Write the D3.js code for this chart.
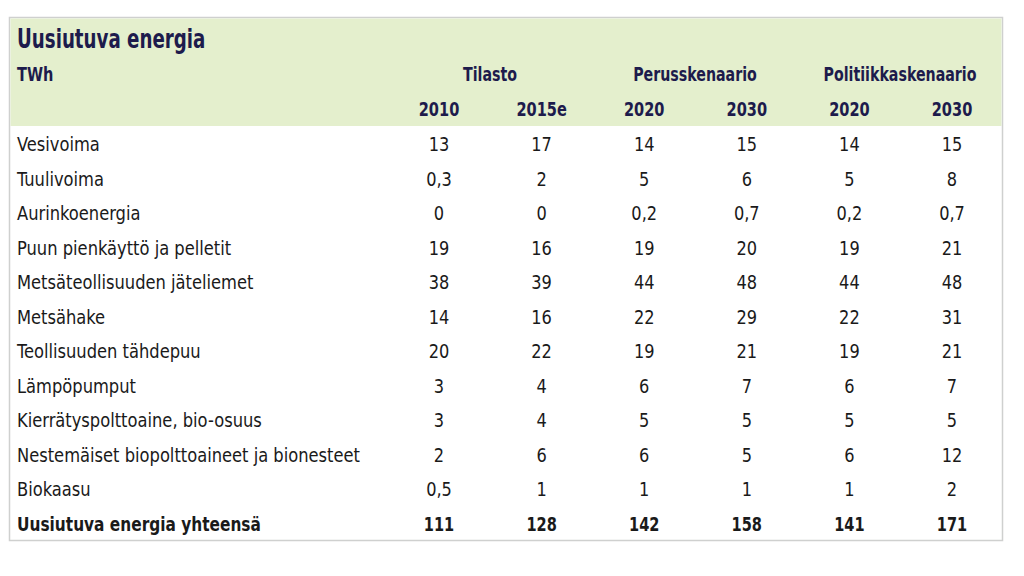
<!DOCTYPE html>
<html><head><meta charset="utf-8">
<script src="https://cdn.jsdelivr.net/npm/d3@7"></script>
<style>
body{margin:0;background:#fff;}
text{font-family:"DejaVu Sans Condensed","Liberation Sans Narrow",sans-serif;}
</style></head>
<body>
<svg id="c" width="1024" height="576"></svg>
<script>
const title = "Uusiutuva energia";
const unit = "TWh";
const groups = ["Tilasto","Perusskenaario","Politiikkaskenaario"];
const years = ["2010","2015e","2020","2030","2020","2030"];
const categories = ["Vesivoima","Tuulivoima","Aurinkoenergia","Puun pienkäyttö ja pelletit","Metsäteollisuuden jäteliemet","Metsähake","Teollisuuden tähdepuu","Lämpöpumput","Kierrätyspolttoaine, bio-osuus","Nestemäiset biopolttoaineet ja bionesteet","Biokaasu","Uusiutuva energia yhteensä"];
const v2010 = ["13","0,3","0","19","38","14","20","3","3","2","0,5","111"];
const v2015 = ["17","2","0","16","39","16","22","4","4","6","1","128"];
const vP2020 = ["14","5","0,2","19","44","22","19","6","5","6","1","142"];
const vP2030 = ["15","6","0,7","20","48","29","21","7","5","5","1","158"];
const vK2020 = ["14","5","0,2","19","44","22","19","6","5","6","1","141"];
const vK2030 = ["15","8","0,7","21","48","31","21","7","5","12","2","171"];
const cols = [v2010,v2015,vP2020,vP2030,vK2020,vK2030];

const svg = d3.select("#c");
const L=9, R=1003, T=17, B=541, HB=126;
const navy="#1d1b4c", ink="#1a1a1a";

svg.append("rect").attr("x",L+0.5).attr("y",T+0.5).attr("width",R-L-1).attr("height",B-T-1)
  .attr("fill","#fff").attr("stroke","#cfd0cf").attr("stroke-width",1.5);
svg.append("rect").attr("x",L+1.5).attr("y",T+1.5).attr("width",R-L-3).attr("height",HB-T-1.5)
  .attr("fill","#e4efcd");

const x = d3.scalePoint().domain(d3.range(6)).range([439,952]);
const gx = d3.scalePoint().domain(d3.range(3)).range([490,900]);
const y = d3.scaleBand().domain(d3.range(categories.length)).range([126,540]).paddingInner(0).paddingOuter(0);

const place = (sel, fx, fy, sx) => sel.attr("transform",(d,i)=>`translate(${fx(d,i)},${fy(d,i)}) scale(${sx},1)`);

place(svg.append("text").datum(title).text(d=>d).attr("fill",navy)
  .attr("font-size",26).attr("font-weight","bold"), ()=>17, ()=>48, 0.78);
place(svg.append("text").datum(unit).text(d=>d).attr("fill",navy)
  .attr("font-size",20).attr("font-weight","bold"), ()=>17, ()=>81, 0.81);
place(svg.selectAll("text.grp").data(groups).join("text").attr("class","grp")
  .attr("text-anchor","middle").attr("fill",navy)
  .attr("font-size",20).attr("font-weight","bold").text(d=>d), (d,i)=>gx(i), ()=>81, 0.79);
place(svg.selectAll("text.yr").data(years).join("text").attr("class","yr")
  .attr("text-anchor","middle").attr("fill",navy)
  .attr("font-size",20).attr("font-weight","bold").text(d=>d), (d,i)=>x(i), ()=>116, 0.81);

const last = categories.length-1;
const rows = svg.selectAll("g.row").data(categories).join("g").attr("class","row")
  .attr("transform",(d,i)=>`translate(0,${y(i)+y.bandwidth()/2+8})`);
rows.append("text").attr("fill",ink).attr("font-size",20)
  .attr("font-weight",(d,i)=>i===last?"bold":"normal").text(d=>d)
  .attr("transform",(d,i)=>`translate(17,0) scale(${i===last?0.855:0.907},1)`);
cols.forEach((col,ci)=>{
  rows.append("text").attr("text-anchor","middle").attr("fill",ink)
    .attr("font-size",20).attr("font-weight",(d,i)=>i===last?"bold":"normal")
    .attr("transform",(d,i)=>`translate(${x(ci)},0) scale(${i===last?0.81:0.9},1)`)
    .text((d,i)=>col[i]);
});
</script></body></html>
